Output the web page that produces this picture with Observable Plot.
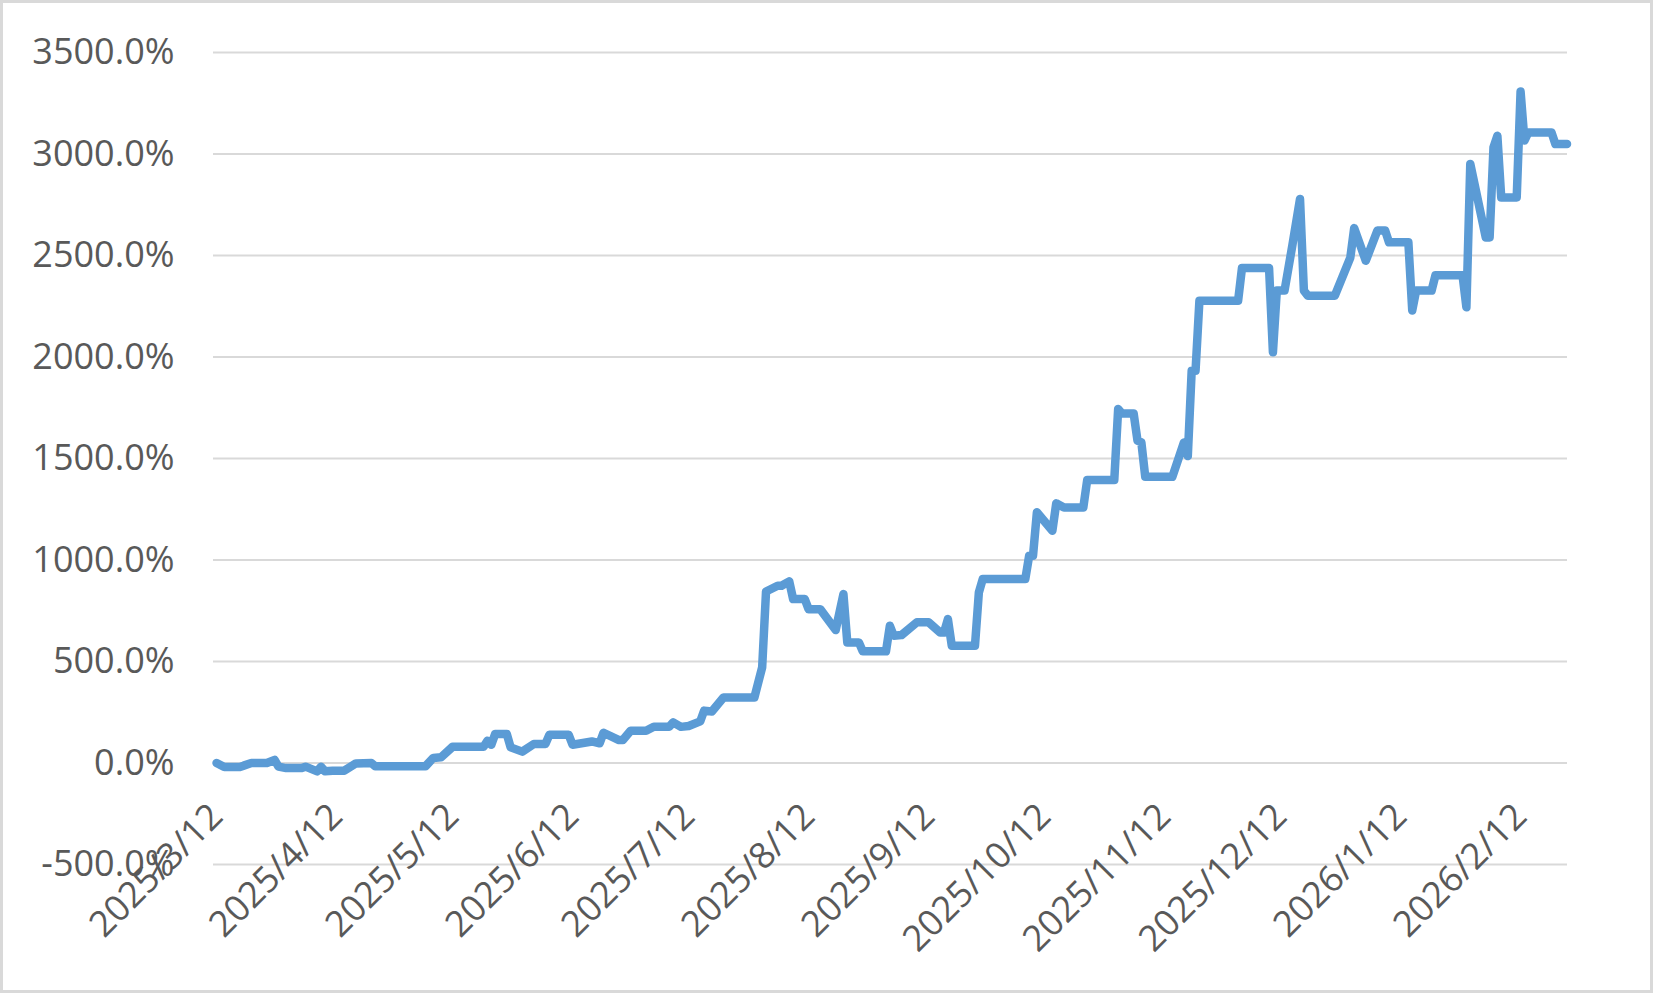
<!DOCTYPE html>
<html><head><meta charset="utf-8">
<script src="https://cdn.jsdelivr.net/npm/d3@7"></script>
<script src="https://cdn.jsdelivr.net/npm/@observablehq/plot@0.6"></script>
<style>
html,body{margin:0;padding:0;background:#fff;}
#chart svg{display:block; outline:3px solid #d9d9d9; outline-offset:-3px;}
</style></head><body><div id="chart"></div>
<script>
const dates = [
"2025-03-12","2025-03-14","2025-03-18","2025-03-19","2025-03-21","2025-03-25","2025-03-27","2025-03-28","2025-03-30",
"2025-04-03","2025-04-04","2025-04-07","2025-04-08","2025-04-09","2025-04-11","2025-04-14","2025-04-17","2025-04-21","2025-04-22",
"2025-05-05","2025-05-07","2025-05-09","2025-05-12","2025-05-20","2025-05-21","2025-05-22","2025-05-23","2025-05-26","2025-05-27","2025-05-30",
"2025-06-02","2025-06-05","2025-06-06","2025-06-11","2025-06-12","2025-06-17","2025-06-19","2025-06-20","2025-06-24","2025-06-25","2025-06-27",
"2025-07-01","2025-07-03","2025-07-07","2025-07-08","2025-07-10","2025-07-12","2025-07-15","2025-07-16","2025-07-18","2025-07-21","2025-07-29","2025-07-31",
"2025-08-01","2025-08-04","2025-08-05","2025-08-07","2025-08-08","2025-08-11","2025-08-12","2025-08-15","2025-08-19","2025-08-21","2025-08-22","2025-08-25","2025-08-26",
"2025-09-01","2025-09-02","2025-09-03","2025-09-05","2025-09-09","2025-09-12","2025-09-15","2025-09-16","2025-09-17","2025-09-18","2025-09-24","2025-09-25","2025-09-26",
"2025-10-07","2025-10-08","2025-10-09","2025-10-10","2025-10-14","2025-10-15","2025-10-17","2025-10-22","2025-10-23","2025-10-30","2025-10-31",
"2025-11-01","2025-11-04","2025-11-05","2025-11-06","2025-11-07","2025-11-14","2025-11-17","2025-11-18","2025-11-19","2025-11-20","2025-11-21",
"2025-12-01","2025-12-02","2025-12-09","2025-12-10","2025-12-11","2025-12-13","2025-12-15","2025-12-17","2025-12-18","2025-12-19","2025-12-26","2025-12-30","2025-12-31",
"2026-01-03","2026-01-06","2026-01-08","2026-01-09","2026-01-14","2026-01-15","2026-01-16","2026-01-20","2026-01-21","2026-01-28","2026-01-29","2026-01-30",
"2026-02-03","2026-02-04","2026-02-05","2026-02-06","2026-02-07","2026-02-11","2026-02-12","2026-02-13","2026-02-14","2026-02-20","2026-02-21","2026-02-24"
];
const values = [
0,-20,-20,-13,0,0,15,-18,-25,
-25,-18,-41,-18,-41,-38,-38,-2,0,-16,
-16,25,28,80,80,110,90,143,143,77,56,
94,94,139,139,90,106,97,149,113,113,159,
159,179,179,200,178,182,205,258,254,323,323,471,
845,873,873,895,808,808,758,758,655,832,594,594,550,
550,676,627,630,693,693,643,643,709,578,578,840,906,
906,1021,1021,1235,1144,1279,1259,1259,1394,1394,1744,
1722,1722,1588,1579,1410,1410,1579,1512,1932,1932,2277,
2277,2438,2438,2023,2327,2327,2548,2778,2327,2302,2302,2490,2635,
2474,2623,2623,2565,2565,2229,2327,2327,2403,2403,2245,2951,
2589,2589,3033,3090,2786,2786,3308,3066,3106,3106,3049,3049
];
const tickDates = ["2025-03-12","2025-04-12","2025-05-12","2025-06-12","2025-07-12","2025-08-12","2025-09-12","2025-10-12","2025-11-12","2025-12-12","2026-01-12","2026-02-12"];
const yTicks = [-500,0,500,1000,1500,2000,2500,3000,3500];

const data = dates.map((d,i)=>({date:new Date(d+"T00:00:00Z"), value:values[i]}));
const ticks = tickDates.map(d=>new Date(d+"T00:00:00Z"));

const plot = Plot.plot({
  width:1653, height:993,
  marginLeft:213, marginRight:86, marginTop:52, marginBottom:129,
  style:{fontFamily:"'Open Sans', sans-serif", fontSize:"36px", color:"#595959", background:"#fff"},
  x:{type:"utc", domain:[new Date("2025-03-11T05:00:00Z"), new Date("2026-02-24T03:00:00Z")]},
  y:{domain:[-500,3500]},
  marks:[
    Plot.gridY(yTicks, {stroke:"#d9d9d9", strokeOpacity:1, strokeWidth:2}),
    Plot.axisY(yTicks, {tickSize:0, tickPadding:39, tickFormat:d=>d.toFixed(1)+"%", fill:"#595959", fontSize:36, label:null}),
    Plot.axisX(ticks, {tickSize:0, tickRotate:-45, tickFormat:d3.utcFormat("%Y/%-m/%-d"), dy:-66, label:null, fill:"#595959", fontSize:36}),
    Plot.line(data, {x:"date", y:"value", stroke:"#5B9BD5", strokeWidth:8.5, strokeLinejoin:"round", strokeLinecap:"round"})
  ]
});
document.getElementById("chart").appendChild(plot);
</script></body></html>
